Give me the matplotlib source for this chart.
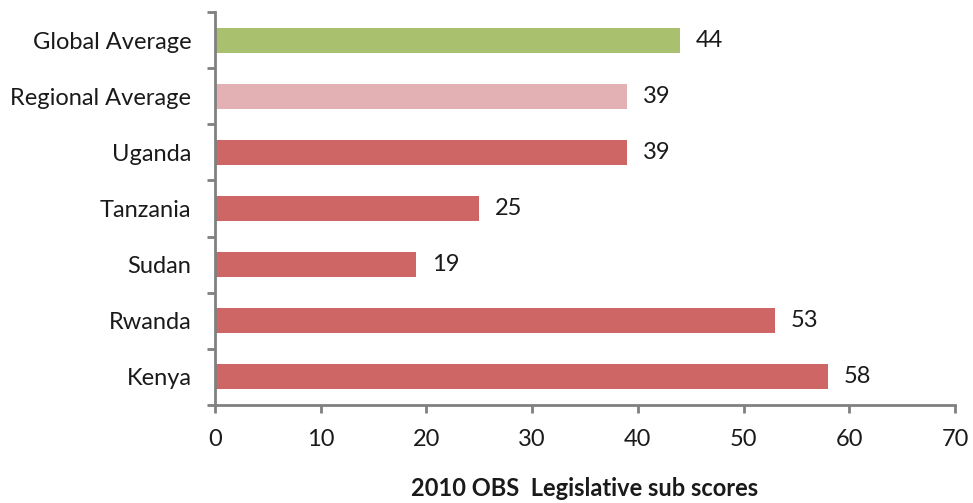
import matplotlib
matplotlib.use("Agg")
import matplotlib.pyplot as plt
from matplotlib.ticker import FixedLocator

categories = ["Kenya", "Rwanda", "Sudan", "Tanzania", "Uganda", "Regional Average", "Global Average"]
values = [58, 53, 19, 25, 39, 39, 44]
colors = ["#CD6664", "#CD6664", "#CD6664", "#CD6664", "#CD6664", "#E3B0B3", "#A9C16F"]
xticks = [0, 10, 20, 30, 40, 50, 60, 70]
xlabel = "2010 OBS  Legislative sub scores"

plt.rcParams['font.family'] = ['Lato', 'DejaVu Sans']
fig = plt.figure(figsize=(9.73, 5.03), dpi=100)
ax = fig.add_axes([0.221, 0.195, 0.7605, 0.781])

y = list(range(len(categories)))
ax.barh(y, values, height=0.45, color=colors, zorder=2)
for yi, v in zip(y, values):
    ax.text(v + 1.5, yi, str(v), va='center', ha='left', fontsize=17, color='#1a1a1a')

ax.set_xlim(0, 70)
ax.set_ylim(-0.5, len(categories) - 0.5)
ax.set_xticks(xticks)
ax.set_xticklabels([str(t) for t in xticks], fontsize=17, color='#1a1a1a')
ax.set_yticks(y)
ax.set_yticklabels(categories, fontsize=17, color='#1a1a1a')
ax.tick_params(axis='y', length=0, pad=17)
ax.yaxis.set_minor_locator(FixedLocator([i - 0.5 for i in range(len(categories) + 1)]))
ax.tick_params(axis='y', which='minor', length=6, width=2, color='#808080', direction='out')
ax.tick_params(axis='x', length=6, width=2, color='#808080', direction='out', pad=11)
for s in ['top', 'right']:
    ax.spines[s].set_visible(False)
for s in ['left', 'bottom']:
    ax.spines[s].set_color('#808080')
    ax.spines[s].set_linewidth(2)
ax.set_xlabel(xlabel, fontsize=17, fontweight='bold', color='#1a1a1a', labelpad=20)

fig.savefig("out.png", dpi=100)
